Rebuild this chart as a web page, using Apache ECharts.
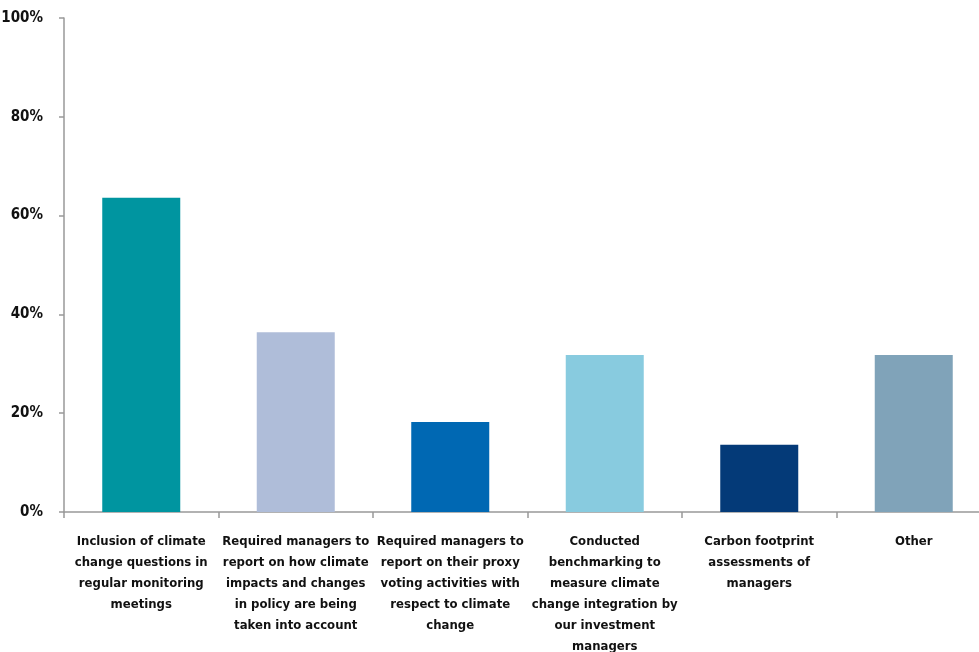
<!DOCTYPE html>
<html><head><meta charset="utf-8">
<script src="https://cdn.jsdelivr.net/npm/echarts@6/dist/echarts.min.js"></script>
<style>html,body{margin:0;padding:0;background:#fff}#c{width:979px;height:652px}</style>
</head><body><div id="c"></div>
<script>
var categories = [
  "Inclusion of climate\nchange questions in\nregular monitoring\nmeetings",
  "Required managers to\nreport on how climate\nimpacts and changes\nin policy are being\ntaken into account",
  "Required managers to\nreport on their proxy\nvoting activities with\nrespect to climate\nchange",
  "Conducted\nbenchmarking to\nmeasure climate\nchange integration by\nour investment\nmanagers",
  "Carbon footprint\nassessments of\nmanagers",
  "Other"
];
var values = [63.6, 36.4, 18.2, 31.8, 13.6, 31.8];
var barColors = ["#0095A0", "#AFBDD9", "#0068B3", "#88CBDF", "#043A78", "#80A3B9"];
var yTicks = [0, 20, 40, 60, 80, 100];

var font = '"DejaVu Sans Condensed", "Liberation Sans Narrow", sans-serif';
var chart = echarts.init(document.getElementById('c'), null, {renderer: 'canvas'});
chart.setOption({
  animation: false,
  grid: {left: 64, width: 927, top: 18, height: 494, containLabel: false, outerBoundsMode: 'none'},
  xAxis: {
    type: 'category',
    data: categories,
    axisLine: {lineStyle: {color: '#999', width: 1.5}},
    axisTick: {show: true, length: 6, lineStyle: {color: '#999', width: 1.5}},
    axisLabel: {interval: 0, color: '#111', fontFamily: font, fontWeight: 'bold', fontSize: 13, lineHeight: 21, margin: 19, align: 'center'}
  },
  yAxis: {
    type: 'value', min: 0, max: 100, interval: 20,
    splitLine: {show: false},
    axisLine: {show: true, lineStyle: {color: '#999', width: 1.5}},
    axisTick: {show: true, length: 5, lineStyle: {color: '#999', width: 1.5}},
    axisLabel: {color: '#111', fontFamily: font, fontWeight: 'bold', fontSize: 15, margin: 21,
      formatter: function(v){ return yTicks.indexOf(v) >= 0 ? v + '%' : ''; }}
  },
  series: [{
    type: 'bar',
    barWidth: 78,
    data: values.map(function(v, i){ return {value: v, itemStyle: {color: barColors[i]}}; })
  }]
});
</script></body></html>
